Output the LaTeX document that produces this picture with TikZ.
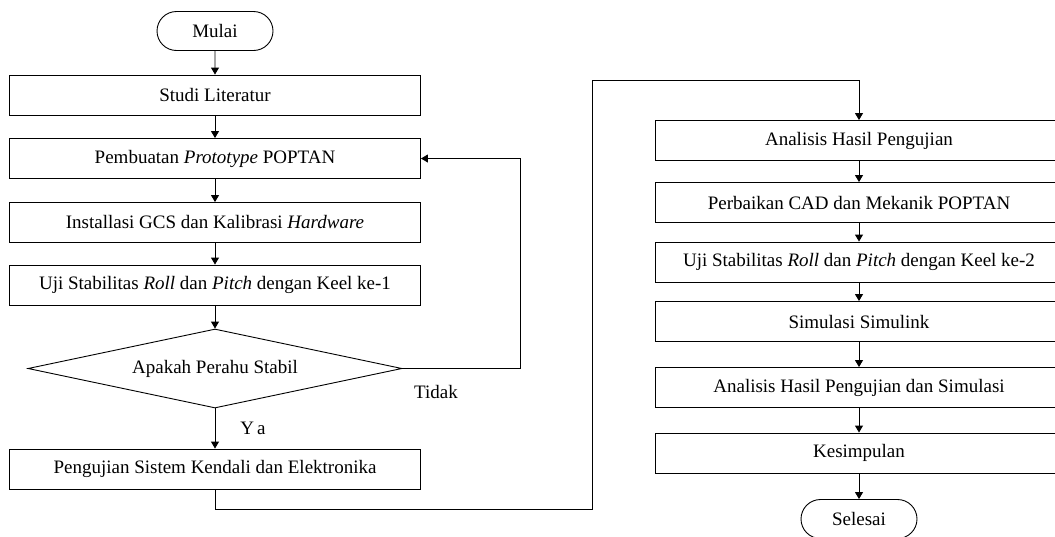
\documentclass[tikz,border=0pt]{standalone}
\usepackage{fontspec}
\setmainfont{Liberation Serif}
\usetikzlibrary{shapes.geometric,shapes.misc,arrows.meta}
\begin{document}
\begin{tikzpicture}
[
    x=1pt, y=-1pt,
    every node/.style={font=\fontsize{19}{22}\selectfont},
    kotak/.style={draw, line width=0.9pt, minimum width=411pt, minimum height=40pt, inner sep=0pt},
    terminal/.style={draw, rounded rectangle, line width=0.9pt, minimum width=116pt, minimum height=39pt, inner sep=0pt},
    keputusan/.style={draw, diamond, aspect=4.7, line width=0.9pt, minimum width=374pt, minimum height=79pt, inner sep=0pt},
    panah/.style={-{Triangle[length=7pt,width=8pt]}, line width=0.9pt},
]
\useasboundingbox (0,0) rectangle (1055,536);
\clip (0,0) rectangle (1055,536);
\node[terminal] (mulai) at (215,31) {Mulai};
\node[kotak] (studi) at (215,95) {Studi Literatur};
\node[kotak] (prototype) at (215,158.5) {Pembuatan \textit{Prototype} POPTAN};
\node[kotak] (install) at (215,222.5) {Installasi GCS dan Kalibrasi \textit{Hardware}};
\node[kotak] (ujisatu) at (215,285) {Uji Stabilitas \textit{Roll} dan \textit{Pitch} dengan Keel ke-1};
\node[keputusan] (stabil) at (215,368.5) {Apakah Perahu Stabil};
\node[kotak] (kendali) at (215,469) {Pengujian Sistem Kendali dan Elektronika};
\node[kotak, minimum width=408pt] (analisis) at (859,140.5) {Analisis Hasil Pengujian};
\node[kotak, minimum width=408pt] (perbaikan) at (859,202.5) {Perbaikan CAD dan Mekanik POPTAN};
\node[kotak, minimum width=408pt] (ujidua) at (859,262) {Uji Stabilitas \textit{Roll} dan \textit{Pitch} dengan Keel ke-2};
\node[kotak, minimum width=408pt] (simulink) at (859,321.5) {Simulasi Simulink};
\node[kotak, minimum width=408pt] (analisisdua) at (859,387.5) {Analisis Hasil Pengujian dan Simulasi};
\node[kotak, minimum width=408pt] (kesimpulan) at (859,453) {Kesimpulan};
\node[terminal] (selesai) at (859,519) {Selesai};
\node (tidak) at (436,392) {Tidak};
\node (ya) at (253,428) {Y\,a};
\coordinate (belok) at (592,80);
\draw[panah] (mulai) -- (studi);
\draw[panah] (studi) -- (prototype);
\draw[panah] (prototype) -- (install);
\draw[panah] (install) -- (ujisatu);
\draw[panah] (ujisatu) -- (stabil);
\draw[panah] (stabil) -- (kendali);
\draw[panah] (stabil.east) -- ++(118,0) |- (prototype.east);
\draw[panah] (kendali.south) -- ++(0,20) -| (belok) -| (analisis.north);
\draw[panah] (analisis) -- (perbaikan);
\draw[panah] (perbaikan) -- (ujidua);
\draw[panah] (ujidua) -- (simulink);
\draw[panah] (simulink) -- (analisisdua);
\draw[panah] (analisisdua) -- (kesimpulan);
\draw[panah] (kesimpulan) -- (selesai);
\end{tikzpicture}
\end{document}
